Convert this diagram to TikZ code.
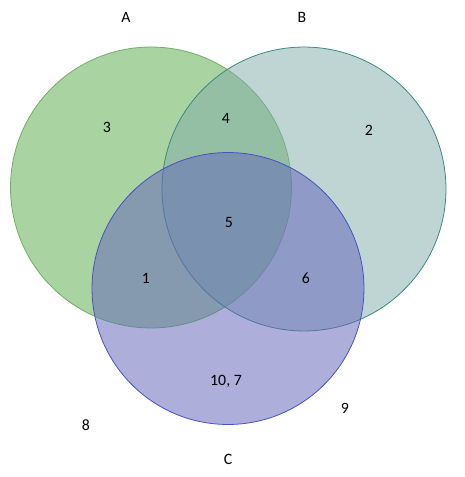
\documentclass[tikz,border=0pt]{standalone}
\usepackage{fontspec}
\setmainfont{Carlito}
\usetikzlibrary{positioning}
\definecolor{setgreen}{RGB}{84,168,66}
\definecolor{setteal}{RGB}{128,172,168}
\definecolor{setblue}{RGB}{100,104,186}
\definecolor{edgegreen}{RGB}{110,175,100}
\definecolor{edgeteal}{RGB}{60,135,130}
\definecolor{edgeblue}{RGB}{70,80,195}
\begin{document}
\begin{tikzpicture}[x=0.02cm,y=-0.02cm,
  every node/.style={font=\fontsize{9}{10}\selectfont},
  setcirc/.style={circle,inner sep=0pt,fill opacity=.5,draw opacity=1,
    line width=.45pt}]
 \useasboundingbox (0,0) rectangle (465,477);
 % the three sets
 \node[setcirc,draw=edgegreen,fill=setgreen,minimum size=5.62cm] (setA) at (151,187.5) {};
 \node[setcirc,draw=edgeteal,fill=setteal,minimum size=5.68cm] (setB) at (304,189) {};
 \node[setcirc,draw=edgeblue,fill=setblue,fill opacity=.53,minimum size=5.44cm] (setC) at (228,288.5) {};
 % set names
 \node (nameA) at (126,17) {A};
 \node (nameB) at (302,17) {B};
 \node (nameC) at (228,459) {C};
 % regions
 \node (onlyA) at (107,127) {3};
 \node (AB) at (226,118) {4};
 \node (onlyB) at (369,130) {2};
 \node (ABC) at (229,222) {5};
 \node (AC) at (146,278) {1};
 \node (BC) at (306,278) {6};
 \node (onlyC) at (226,381) {10, 7};
 \node (outR) at (345,408) {9};
 \node (outL) at (86,425) {8};
\end{tikzpicture}
\end{document}
